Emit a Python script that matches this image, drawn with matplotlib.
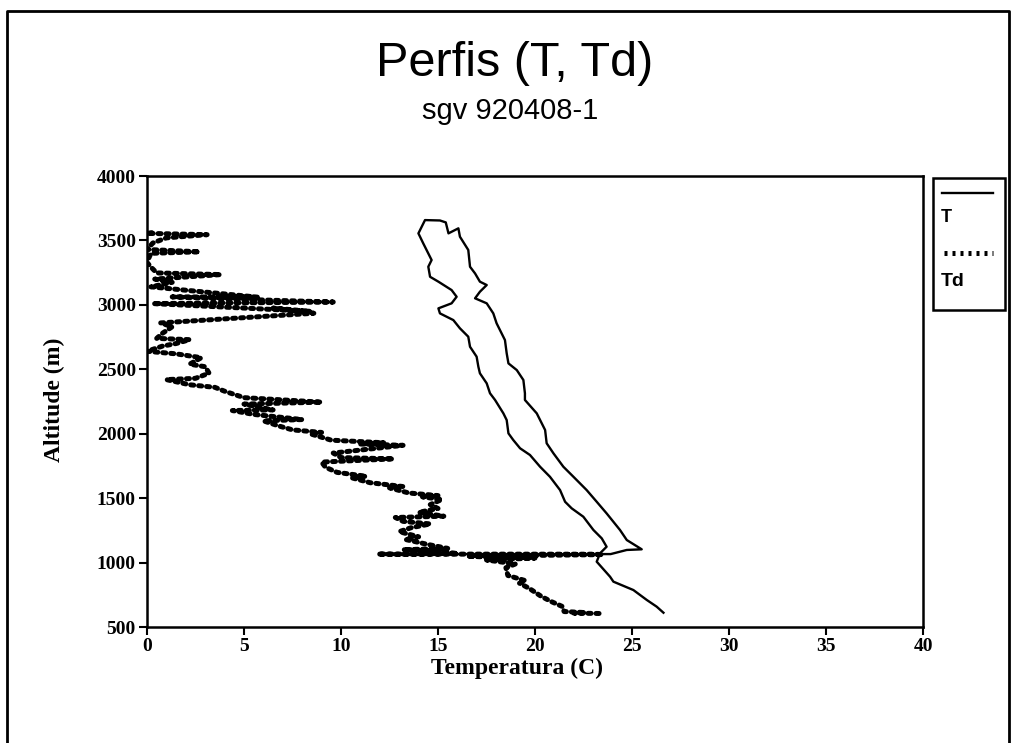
import numpy as np
import matplotlib.pyplot as plt
from matplotlib.lines import Line2D
from matplotlib.patches import Rectangle

# ============================== DATA ==============================
# T profile: temperature (C) and altitude (m); ascent, top loop, descent
T_temp = [26.62, 26.27, 25.76, 25.07, 24.04, 23.87, 23.18, 23.35, 23.69,
          23.44, 23.01, 22.49, 21.89, 21.55, 21.29, 20.77, 20.26, 19.74,
          19.23, 18.88, 18.63, 18.54, 18.37, 17.94, 17.68, 17.51, 17.16,
          17.08, 16.99, 16.65, 16.56, 16.13, 15.79, 15.10, 15.02, 15.70,
          15.96, 15.70, 15.02, 14.59, 14.50, 14.67, 14.24, 13.99, 14.33,
          15.10, 15.40, 15.54, 16.05, 16.13, 16.56, 16.65, 16.91, 17.16,
          17.51, 17.16, 16.91, 17.51, 17.85, 18.02, 18.45, 18.54, 18.63,
          19.06, 19.40, 19.48, 19.48, 20.09, 20.52, 20.60, 20.95, 21.46,
          21.98, 22.66, 23.18, 23.69, 24.38, 24.73, 25.50, 24.73, 23.90,
          12.00]
T_alt = [611, 658, 710, 787, 852, 890, 1007, 1072, 1123,
         1188, 1253, 1356, 1421, 1472, 1563, 1666, 1744, 1835,
         1887, 1951, 2003, 2106, 2158, 2262, 2314, 2391, 2469,
         2520, 2598, 2675, 2753, 2818, 2882, 2934, 2973, 3012,
         3063, 3115, 3180, 3218, 3296, 3348, 3477, 3555, 3658,
         3655, 3640, 3555, 3594, 3529, 3426, 3296, 3244, 3180,
         3154, 3102, 3051, 3012, 2934, 2857, 2727, 2624, 2546,
         2494, 2417, 2314, 2262, 2158, 2029, 1926, 1848, 1744,
         1666, 1563, 1472, 1382, 1253, 1175, 1103, 1098, 1066,
         1066]

# Td profile: dew point (C) and altitude (m)
Td_temp = [23.3, 22.0, 22.6, 21.5, 21.4, 20.8, 20.3, 19.7, 19.2, 19.5,
           18.6, 18.5, 19.0, 17.5, 20.0, 18.0, 16.5, 23.5, 23.0, 11.9,
           13.0, 16.0, 15.0, 13.2, 15.5, 14.5, 13.3, 14.0, 13.0, 13.6,
           14.6, 13.2, 12.8, 15.3, 14.0, 15.0, 14.6, 15.2, 14.2, 15.0,
           13.5, 12.5, 13.2, 11.5, 10.5, 11.3, 9.8, 9.2, 9.0, 12.7,
           10.0, 9.6, 13.2, 11.0, 12.2, 9.5, 8.4, 9.0, 7.5, 6.8,
           6.0, 8.0, 5.5, 4.4, 6.5, 5.0, 9.0, 5.0, 4.0, 3.5,
           2.2, 1.0, 2.5, 3.2, 3.0, 2.2, 2.8, 1.5, 0.0, 0.8,
           1.5, 2.2, 0.5, 0.8, 1.3, 0.7, 8.6, 6.5, 8.4, 0.3,
           9.6, 5.5, 1.3, 5.7, 0.2, 1.3, 0.4, 3.8, 0.5, 0.2,
           0.0, 0.2, 2.7, 0.0, 0.3, 1.0, 3.1, 0.0, 0.5]
Td_alt = [605, 608, 612, 620, 660, 700, 740, 800, 840, 860,
          900, 960, 990, 1020, 1035, 1040, 1050, 1062, 1065, 1066,
          1064, 1070, 1090, 1100, 1110, 1140, 1180, 1200, 1240, 1270,
          1300, 1320, 1350, 1360, 1390, 1420, 1450, 1490, 1510, 1520,
          1540, 1580, 1590, 1620, 1660, 1670, 1700, 1740, 1780, 1805,
          1815, 1850, 1910, 1920, 1930, 1950, 2000, 2010, 2030, 2060,
          2100, 2110, 2150, 2180, 2185, 2230, 2245, 2280, 2330, 2360,
          2380, 2420, 2430, 2470, 2520, 2540, 2590, 2620, 2640, 2680,
          2700, 2730, 2740, 2780, 2830, 2860, 2935, 2975, 2950, 3010,
          3022, 3040, 3062, 3060, 3140, 3175, 3200, 3235, 3248, 3294,
          3330, 3400, 3412, 3430, 3480, 3520, 3545, 3555, 3565]

xticks = [0, 5, 10, 15, 20, 25, 30, 35, 40]
yticks = [500, 1000, 1500, 2000, 2500, 3000, 3500, 4000]

# ============================== PLOT STUFF =============================
serif = 'Liberation Serif'
sans = 'Liberation Sans'
td_dash = (0, (0.6, 1.0))

fig = plt.figure(figsize=(10.13, 7.43), dpi=100)
ax = fig.add_axes([0.1451, 0.1561, 0.7661, 0.607])

ax.plot(T_temp, T_alt, color='black', lw=1.7)
ax.plot(Td_temp, Td_alt, color='black', lw=3.6, linestyle=td_dash,
        dash_capstyle='round')

ax.set_xlim(0, 40)
ax.set_ylim(500, 4000)
ax.set_xticks(xticks)
ax.set_yticks(yticks)
ax.set_xticklabels([str(v) for v in xticks], family=serif, weight='bold', fontsize=14)
ax.set_yticklabels([str(v) for v in yticks], family=serif, weight='bold', fontsize=14)
ax.tick_params(direction='out', length=6, width=1.5, pad=2)
for s in ax.spines.values():
    s.set_linewidth(1.8)

ax.set_xlabel('Temperatura (C)', family=serif, weight='bold', fontsize=17)
ax.xaxis.set_label_coords(0.477, -0.068)
ax.set_ylabel('Altitude (m)', family=serif, weight='bold', fontsize=17)
ax.yaxis.set_label_coords(-0.106, 0.503)

# Titles
fig.text(0.5085, 0.915, 'Perfis (T, Td)', family=sans, fontsize=35,
         ha='center', va='center')
fig.text(0.5035, 0.851, 'sgv 920408-1', family=sans, fontsize=21,
         ha='center', va='center')

# Legend box (line samples above the labels)
lx0, lx1 = 933/1013, 1005/1013
ly0, ly1 = 1-310/743, 1-178/743
fig.add_artist(Rectangle((lx0, ly0), lx1-lx0, ly1-ly0, transform=fig.transFigure,
                         fill=False, lw=1.8, ec='black'))
fig.add_artist(Line2D([942/1013, 993/1013], [1-193/743]*2, color='black', lw=1.7))
fig.add_artist(Line2D([944/1013, 993/1013], [1-253/743]*2, color='black', lw=3.6,
                      linestyle=td_dash))
fig.text(941/1013, 1-218/743, 'T', family=sans, weight='bold', fontsize=13, va='center')
fig.text(941/1013, 1-282/743, 'Td', family=sans, weight='bold', fontsize=14, va='center')

# Outer page frame (left, top, right)
fig.add_artist(Line2D([7/1013, 7/1013, 1009/1013, 1009/1013],
                      [0, 1-11/743, 1-11/743, 0], color='black', lw=2))

plt.savefig('out.png', dpi=100)
